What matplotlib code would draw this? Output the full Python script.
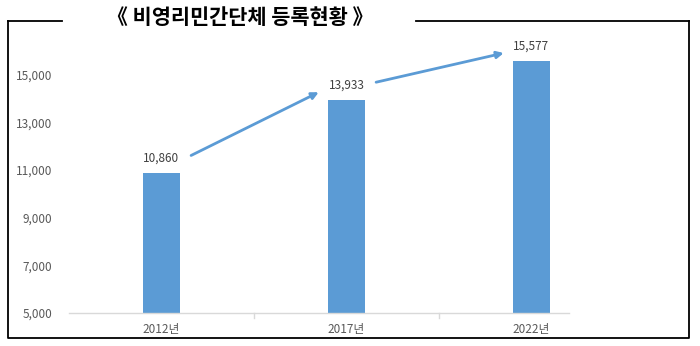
import matplotlib
matplotlib.use("Agg")
import matplotlib.pyplot as plt
from matplotlib.lines import Line2D

plt.rcParams['font.family'] = ['Noto Sans CJK KR', 'DejaVu Sans']

# 연도별 등록 단체 수
years = ["2012년", "2017년", "2022년"]
counts = [10860, 13933, 15577]
yticks = [5000, 7000, 9000, 11000, 13000, 15000]

BAR_COLOR = "#5B9BD5"
W, H = 700, 346

fig = plt.figure(figsize=(7, 3.46), dpi=100)
ax = fig.add_axes([69 / W, 33 / H, 555 / W, 286 / H])

x = range(len(years))
ax.bar(x, counts, width=0.2, color=BAR_COLOR, zorder=2)

ax.set_xlim(-0.5, 2.5)
ax.set_ylim(5000, 17000)
ax.set_yticks(yticks)
ax.set_yticklabels([f"{v:,}" for v in yticks])
ax.set_xticks(list(x))
ax.set_xticklabels(years)
ax.tick_params(axis="y", length=0, pad=12, labelsize=8.5, labelcolor="#595959")
ax.tick_params(axis="x", length=0, pad=7, labelsize=8.5, labelcolor="#595959")

for s in ["top", "right", "left"]:
    ax.spines[s].set_visible(False)
ax.spines["bottom"].set_color("#D9D9D9")
ax.spines["bottom"].set_linewidth(1)
ax.spines["bottom"].set_bounds(-0.5, 2.2)
# 구분 눈금
for b in [0.5, 1.5]:
    ax.plot([b, b], [5000, 4800], color="#D9D9D9", lw=1, clip_on=False)

# 값 라벨
for i, v in enumerate(counts):
    ax.annotate(f"{v:,}", (i, v), xytext=(0, 6), textcoords="offset points",
                ha="center", va="bottom", fontsize=8.5, color="#404040")

# 증가 화살표
for i in range(len(counts) - 1):
    ax.annotate("", xy=(i + 0.85, counts[i + 1] + 330),
                xytext=(i + 0.16, counts[i] + 750),
                arrowprops=dict(arrowstyle="-|>", color=BAR_COLOR, lw=2,
                                mutation_scale=10, shrinkA=0, shrinkB=0))

# 바깥 테두리
def fig_line(xs, ys):
    fig.add_artist(Line2D([p / W for p in xs], [1 - p / H for p in ys],
                          color="black", lw=1.3, transform=fig.transFigure))

fig_line([8, 62], [21, 21])
fig_line([416, 689], [21, 21])
fig_line([8, 8, 689, 689], [21, 338, 338, 21])

fig.text(240 / W, 1 - 18 / H, "《 비영리민간단체 등록현황 》", ha="center", va="center",
         fontsize=15, fontweight="bold", color="black")

fig.savefig("out.png", dpi=100)
